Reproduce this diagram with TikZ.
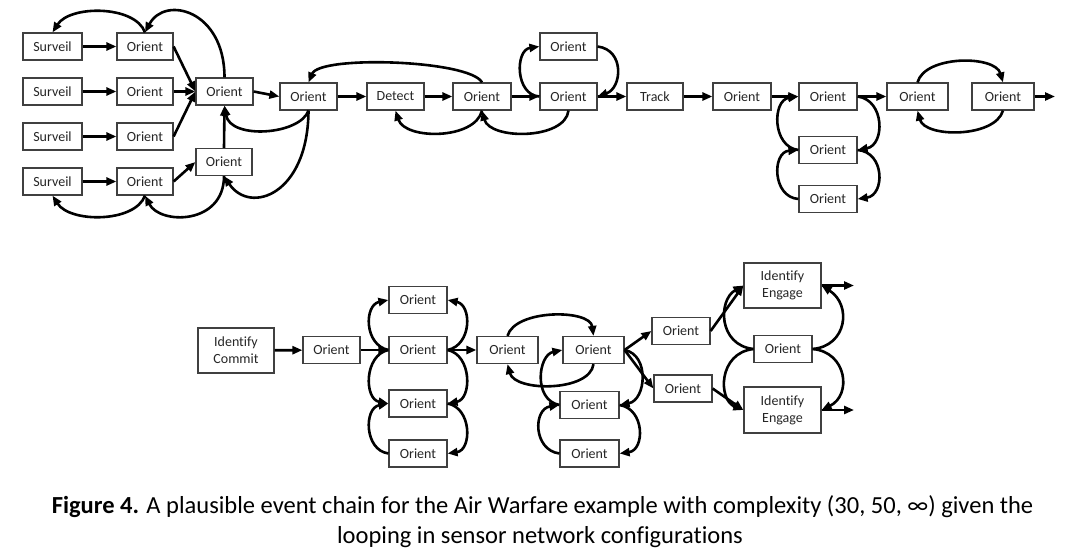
\documentclass[tikz,border=0pt]{standalone}
\usepackage{fontspec}
\setmainfont{Carlito}[Ligatures=NoCommon]
\usetikzlibrary{arrows.meta}
\definecolor{boxline}{HTML}{404040}
\definecolor{boxtext}{HTML}{262626}
\tikzset{
  box/.style={draw=boxline, line width=1.2pt, fill=white, inner sep=0pt,
    minimum height=27pt, minimum width=57pt, text=boxtext,
    font=\fontsize{14}{17}\selectfont, align=center},
  tallbox/.style={box, minimum height=45pt, minimum width=77pt},
  conn/.style={line width=2.6pt, -{Triangle[length=10pt,width=8pt]}},
  capfont/.style={font=\fontsize{24.5}{30}\selectfont, text=black, anchor=base}
}
\begin{document}
\begin{tikzpicture}[x=1pt,y=-1pt]
\useasboundingbox (0,0) rectangle (1080,557);
% ---------- top diagram ----------
\node[box, minimum width=59pt] (s1) at (52.5,46.5) {Surveil};
\node[box, minimum width=59pt] (s2) at (52.5,91.5) {Surveil};
\node[box, minimum width=59pt] (s3) at (52.5,136.5) {Surveil};
\node[box, minimum width=59pt] (s4) at (52.5,181.5) {Surveil};
\node[box, minimum width=56pt] (p1) at (145,46.5) {Orient};
\node[box, minimum width=56pt] (p2) at (145,91.5) {Orient};
\node[box, minimum width=56pt] (p3) at (145,136.5) {Orient};
\node[box, minimum width=56pt] (p4) at (145,181.5) {Orient};
\node[box] (hub) at (224.5,91.5) {Orient};
\node[box, minimum width=56pt] (hubb) at (224,162) {Orient};
\node[box] (o2) at (308.5,96.5) {Orient};
\node[box] (det) at (395.5,96.5) {Detect};
\node[box, minimum width=58pt] (o3) at (482,96.5) {Orient};
\node[box] (o4) at (568.5,96.5) {Orient};
\node[box] (o4t) at (568.5,46.5) {Orient};
\node[box, minimum width=56pt] (trk) at (655,96.5) {Track};
\node[box, minimum width=58pt] (o5) at (742,96.5) {Orient};
\node[box, minimum width=58pt] (o6) at (828,96.5) {Orient};
\node[box, minimum width=58pt] (o6b) at (828,150) {Orient};
\node[box, minimum width=58pt] (o6c) at (828,199) {Orient};
\node[box, minimum width=61pt] (o7) at (917.5,96.5) {Orient};
\node[box, minimum width=62pt] (o8) at (1003,96.5) {Orient};
\coordinate (endA) at (1055,96.5);

\draw[conn] (s1) -- (p1);
\draw[conn] (s2) -- (p2);
\draw[conn] (s3) -- (p3);
\draw[conn] (s4) -- (p4);
\draw[conn] (p1.east) -- (hub.west);
\draw[conn] (p2.east) -- (hub.west);
\draw[conn] (p3.east) -- (hub.west);
\draw[conn] (p4.east) -- (hubb.west);
\draw[conn] (hubb.north) -- (hub.south);
\draw[conn] (hub.north) .. controls (224.5,10) and (165,-5) .. (p1.north);
\draw[conn] (p1.north) .. controls (135,5) and (70,5) .. (s1.north);
\draw[conn] (hubb.south) .. controls (224,225) and (160,225) .. (p4.south);
\draw[conn] (p4.south) .. controls (135,223) and (70,223) .. (s4.south);
\draw[conn] (o2.south) .. controls (308,195) and (250,215) .. (hubb.south);
\draw[conn] (o2.south) .. controls (300,135) and (230,140) .. (hub.south);
\draw[conn] (hub.east) -- (o2.west);
\draw[conn] (o2) -- (det);
\draw[conn] (det) -- (o3);
\draw[conn] (o3) -- (o4);
\draw[conn] (o3.north) .. controls (470,60) and (320,55) .. (o2.north);
\draw[conn] (o3.south) .. controls (475,140) and (405,140) .. (det.south);
\draw[conn] (o4.south) .. controls (565,140) and (490,140) .. (o3.south);
\draw[conn] (o4.west) .. controls (515,95) and (515,50) .. (o4t.west);
\draw[conn] (o4t.east) .. controls (625,50) and (622,88) .. (o4.east);
\draw[conn] (o4) -- (trk);
\draw[conn] (trk) -- (o5);
\draw[conn] (o5) -- (o6);
\draw[conn] (o6) -- (o7);
\draw[conn] (o6.east) .. controls (885,100) and (885,145) .. (o6b.east);
\draw[conn] (o6b.west) .. controls (772,147) and (772,100) .. (o6.west);
\draw[conn] (o6b.east) .. controls (885,152) and (885,195) .. (o6c.east);
\draw[conn] (o6c.west) .. controls (772,197) and (772,152) .. (o6b.west);
\draw[conn] (o7.north) .. controls (925,55) and (995,55) .. (o8.north);
\draw[conn] (o8.south) .. controls (995,138) and (925,138) .. (o7.south);
\draw[conn] (o8.east) -- (endA);

% ---------- bottom diagram ----------
\node[tallbox, minimum width=76pt] (idc) at (236,350.5) {Identify\\Commit};
\node[box] (b1) at (331.5,350) {Orient};
\node[box, minimum width=58pt] (b2t) at (418,300) {Orient};
\node[box, minimum width=58pt] (b2) at (418,350) {Orient};
\node[box, minimum width=58pt] (b3) at (418,403.5) {Orient};
\node[box, minimum width=58pt] (b4) at (418,453.5) {Orient};
\node[box, minimum width=61pt] (b5) at (507.5,350) {Orient};
\node[box, minimum width=61pt] (b6) at (593.5,350) {Orient};
\node[box, minimum width=59pt] (b7) at (589.5,405) {Orient};
\node[box, minimum width=59pt] (b8) at (589.5,453.5) {Orient};
\node[box, minimum width=58pt] (b9) at (681,331) {Orient};
\node[box, minimum width=58pt] (b10) at (683,388.5) {Orient};
\node[tallbox] (ide1) at (782.5,285.5) {Identify\\Engage};
\node[box, minimum width=58pt] (b11) at (783,349) {Orient};
\node[tallbox, minimum height=46pt] (ide2) at (782.5,410) {Identify\\Engage};
\coordinate (endB) at (854,285.5);
\coordinate (endC) at (854,410);

\draw[conn] (idc) -- (b1);
\draw[conn] (b1) -- (b2);
\draw[conn] (b2) -- (b5);
\draw[conn] (b2.west) .. controls (364,345) and (364,305) .. (b2t.west);
\draw[conn] (b2.east) .. controls (472,345) and (472,305) .. (b2t.east);
\draw[conn] (b2.west) .. controls (364,355) and (364,399) .. (b3.west);
\draw[conn] (b2.east) .. controls (472,355) and (472,399) .. (b3.east);
\draw[conn] (b4.west) .. controls (364,450) and (364,408) .. (b3.west);
\draw[conn] (b3.east) .. controls (472,408) and (472,450) .. (b4.east);
\draw[conn] (b5.north) .. controls (515,309) and (590,309) .. (b6.north);
\draw[conn] (b6.south) .. controls (590,392) and (515,392) .. (b5.south);
\draw[conn] (b7.west) .. controls (533,400) and (538,355) .. (b6.west);
\draw[conn] (b6.east) .. controls (650,355) and (646,400) .. (b7.east);
\draw[conn] (b8.west) .. controls (533,450) and (533,409) .. (b7.west);
\draw[conn] (b7.east) .. controls (645,409) and (645,450) .. (b8.east);
\draw[conn] (b6.east) -- (b9.west);
\draw[conn] (b6.east) -- (b10.west);
\draw[conn] (b9.east) -- (ide1.west);
\draw[conn] (b10.east) -- (ide2.west);
\draw[conn] (b11.west) .. controls (718,345) and (718,300) .. (ide1.west);
\draw[conn] (b11.west) .. controls (718,353) and (718,400) .. (ide2.west);
\draw[conn] (b11.east) .. controls (847,346) and (852,305) .. (ide1.east);
\draw[conn] (b11.east) .. controls (847,352) and (852,395) .. (ide2.east);
\draw[conn] (ide1.east) -- (endB);
\draw[conn] (ide2.east) -- (endC);

% ---------- caption ----------
\node[capfont] (cap1) at (542.5,513) {\textbf{Figure 4.} A plausible event chain for the Air Warfare example with complexity (30, 50, ∞) given the};
\node[capfont] (cap2) at (540,543) {looping in sensor network configurations};
\end{tikzpicture}
\end{document}
